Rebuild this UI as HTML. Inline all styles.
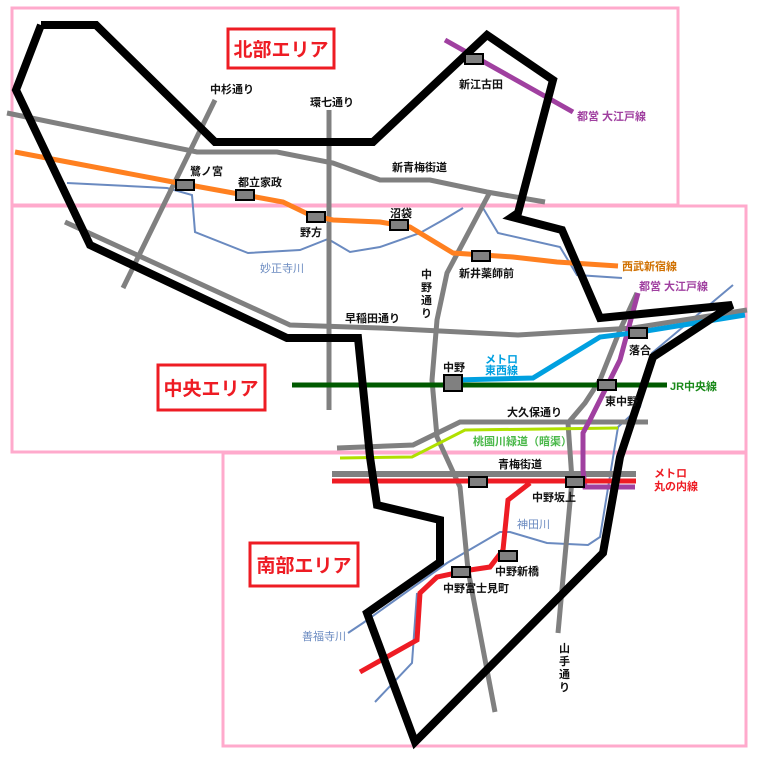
<!DOCTYPE html>
<html><head><meta charset="utf-8"><style>
html,body{margin:0;padding:0;background:#fff;}
svg{display:block;}
text{font-family:"Liberation Sans","Noto Sans CJK JP",sans-serif;font-weight:bold;font-size:11px;}
</style></head><body>
<svg width="760" height="760" viewBox="0 0 760 760" xmlns="http://www.w3.org/2000/svg">
<rect width="760" height="760" fill="#fff"/>
<!-- area frames -->
<g fill="none" stroke="#ffaacc" stroke-width="3">
<rect x="12" y="8" width="666" height="197"/>
<rect x="12" y="206" width="734" height="246"/>
<rect x="223" y="453" width="523" height="293"/>
</g>
<!-- rivers -->
<g fill="none" stroke="#6a8ac0" stroke-width="2">
<polyline points="67,183 167,188 192,195 195,232 248,253 300,250 328,239 350,252 380,247 420,233 443,220 463,208"/>
<polyline points="483,208 498,233 560,247 577,275 622,278"/>
<polyline points="733,285 652,353 640,407 618,427 600,537 588,545 547,543 510,532 500,532 447,563 363,623 348,633"/>
<polyline points="417,593 412,663 375,702"/>
</g>
<!-- roads -->
<g fill="none" stroke="#808080" stroke-width="5">
<polyline points="7,113 197,152 277,152 333,163 380,180 430,180 487,192 545,202"/>
<line x1="215" y1="100" x2="123" y2="288"/>
<line x1="329" y1="110" x2="329" y2="410"/>
<polyline points="65,222 290,325 380,328 518,335 633,328 747,310"/>
<polyline points="490,192 447,273 437,320 432,380 437,437 460,487 468,570 495,712"/>
<polyline points="637,293 620,330 600,380 585,403 568,423 572,480 558,633"/>
<polyline points="337,448 413,445 460,422 648,422"/>
<line x1="332" y1="474" x2="636" y2="474" stroke-width="6"/>
</g>
<!-- rail lines -->
<polyline points="340,458 412,457 465,430 618,428" fill="none" stroke="#b0e000" stroke-width="3"/>
<polyline points="15,152 173,182 283,202 310,215 333,220 380,222 410,227 453,253 513,257 557,262 618,266" fill="none" stroke="#ff8020" stroke-width="5"/>
<line x1="445" y1="40" x2="573" y2="112" stroke="#a040a0" stroke-width="5"/>
<polyline points="638,293 620,360 590,420 583,433 583,470 585,487 635,487" fill="none" stroke="#a040a0" stroke-width="5"/>
<polyline points="455,380 533,378 600,337 640,332 745,315" fill="none" stroke="#00a0e0" stroke-width="5"/>
<line x1="292" y1="385" x2="667" y2="385" stroke="#005a00" stroke-width="5"/>
<line x1="332" y1="481" x2="636" y2="481" stroke="#ee1c24" stroke-width="5"/>
<polyline points="530,483 508,500 503,550 490,567 470,570 437,577 420,593 417,640 360,672" fill="none" stroke="#ee1c24" stroke-width="5"/>
<!-- boundary -->
<polyline points="41,25 96,25 215,142 373,142 487,35 553,80 518,213 512,217 562,230 600,318 732,305 653,357 620,457 603,553 415,742 367,613 440,562 440,520 377,505 370,457 358,338 287,338 90,245 16,90 41,25" fill="none" stroke="#000" stroke-width="8" stroke-linejoin="miter"/>
<!-- stations -->
<g fill="#808080" stroke="#000" stroke-width="2">
<rect x="465" y="54" width="18" height="10"/>
<rect x="176" y="180" width="18" height="10"/>
<rect x="236" y="190" width="18" height="10"/>
<rect x="307" y="212" width="18" height="10"/>
<rect x="390" y="220" width="18" height="10"/>
<rect x="472" y="251" width="18" height="10"/>
<rect x="629" y="328" width="18" height="10"/>
<rect x="444" y="375" width="18" height="16"/>
<rect x="598" y="380" width="18" height="10"/>
<rect x="469" y="477" width="18" height="10"/>
<rect x="566" y="477" width="18" height="10"/>
<rect x="499" y="551" width="18" height="10"/>
<rect x="452" y="567" width="18" height="10"/>
</g>
<!-- area labels -->
<g fill="#fff" stroke="#ee1c24" stroke-width="3">
<rect x="228" y="29" width="106" height="39"/>
<rect x="158" y="365" width="107" height="45"/>
<rect x="250" y="543" width="108" height="43"/>
</g>
<g fill="#ee1c24" font-size="20" style="font-size:20px">
<text x="281" y="56" text-anchor="middle" style="font-size:19px">北部エリア</text>
<text x="211" y="395" text-anchor="middle" style="font-size:19px">中央エリア</text>
<text x="304" y="572" text-anchor="middle" style="font-size:19px">南部エリア</text>
</g>
<!-- black labels -->
<g fill="#111">
<text x="210" y="93">中杉通り</text>
<text x="310" y="106">環七通り</text>
<text x="459" y="88">新江古田</text>
<text x="392" y="171">新青梅街道</text>
<text x="190" y="175">鷺ノ宮</text>
<text x="238" y="186">都立家政</text>
<text x="300" y="236">野方</text>
<text x="390" y="217">沼袋</text>
<text x="459" y="277">新井薬師前</text>
<text x="421" y="278">中</text><text x="421" y="291">野</text><text x="421" y="304">通</text><text x="421" y="317">り</text>
<text x="345" y="322">早稲田通り</text>
<text x="443" y="371">中野</text>
<text x="629" y="354">落合</text>
<text x="605" y="405">東中野</text>
<text x="507" y="416">大久保通り</text>
<text x="498" y="468">青梅街道</text>
<text x="532" y="501">中野坂上</text>
<text x="495" y="575">中野新橋</text>
<text x="443" y="592">中野富士見町</text>
<text x="559" y="652">山</text><text x="559" y="665">手</text><text x="559" y="678">通</text><text x="559" y="691">り</text>
</g>
<!-- colored labels -->
<text x="577" y="120" fill="#a040a0">都営 大江戸線</text>
<text x="639" y="290" fill="#a040a0">都営 大江戸線</text>
<text x="622" y="270" fill="#d07000">西武新宿線</text>
<text x="485" y="363" fill="#00a0e0">メトロ</text>
<text x="485" y="374" fill="#00a0e0">東西線</text>
<text x="670" y="390" fill="#1a8a1a">JR中央線</text>
<text x="260" y="272" fill="#6a8ac0" style="font-weight:normal">妙正寺川</text>
<text x="473" y="445" fill="#4ab84a">桃園川緑道（暗渠）</text>
<text x="654" y="477" fill="#ee1c24">メトロ</text>
<text x="654" y="490" fill="#ee1c24">丸の内線</text>
<text x="517" y="528" fill="#6a8ac0" style="font-weight:normal">神田川</text>
<text x="302" y="640" fill="#6a8ac0" style="font-weight:normal">善福寺川</text>
</svg>
</body></html>
